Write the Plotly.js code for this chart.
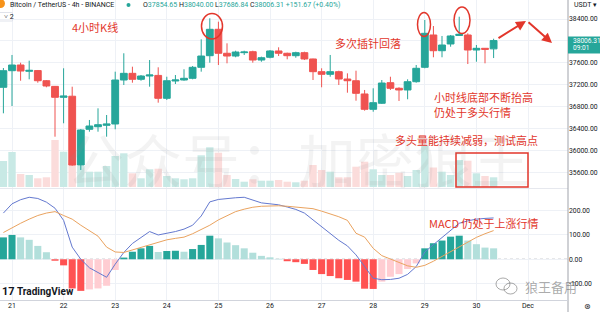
<!DOCTYPE html>
<html><head><meta charset="utf-8">
<script src="https://cdn.plot.ly/plotly-3.0.1.min.js"></script>
<style>html,body{margin:0;padding:0;background:#fff;}#chart{width:600px;height:312px;}</style>
</head><body><div id="chart"></div>
<script>
const times = [
"2023-11-20 20:00",
"2023-11-21 00:00","2023-11-21 04:00","2023-11-21 08:00","2023-11-21 12:00","2023-11-21 16:00","2023-11-21 20:00",
"2023-11-22 00:00","2023-11-22 04:00","2023-11-22 08:00","2023-11-22 12:00","2023-11-22 16:00","2023-11-22 20:00",
"2023-11-23 00:00","2023-11-23 04:00","2023-11-23 08:00","2023-11-23 12:00","2023-11-23 16:00","2023-11-23 20:00",
"2023-11-24 00:00","2023-11-24 04:00","2023-11-24 08:00","2023-11-24 12:00","2023-11-24 16:00","2023-11-24 20:00",
"2023-11-25 00:00","2023-11-25 04:00","2023-11-25 08:00","2023-11-25 12:00","2023-11-25 16:00","2023-11-25 20:00",
"2023-11-26 00:00","2023-11-26 04:00","2023-11-26 08:00","2023-11-26 12:00","2023-11-26 16:00","2023-11-26 20:00",
"2023-11-27 00:00","2023-11-27 04:00","2023-11-27 08:00","2023-11-27 12:00","2023-11-27 16:00","2023-11-27 20:00",
"2023-11-28 00:00","2023-11-28 04:00","2023-11-28 08:00","2023-11-28 12:00","2023-11-28 16:00","2023-11-28 20:00",
"2023-11-29 00:00","2023-11-29 04:00","2023-11-29 08:00","2023-11-29 12:00","2023-11-29 16:00","2023-11-29 20:00",
"2023-11-30 00:00","2023-11-30 04:00","2023-11-30 08:00"];
const open  = [37153,37456,37560,37445,37458,37273,37170,36970,36990,35734,36386,36433,36459,36483,37286,37408,37299,37359,37370,36952,37268,37286,37317,37518,37730,38212,37774,37724,37785,37803,37651,37701,37816,37774,37730,37785,37670,37438,37390,37438,37304,37273,37031,36751,36861,37237,37135,37104,37255,37518,38108,37821,37944,38099,38108,37834,37865,37854.65];
const high  = [37505,37743,37602,37639,37469,37286,37177,37500,37164,36390,36556,36769,36647,37438,37774,37529,37377,37651,37518,37346,37377,37482,37542,38029,38413,38351,37956,37821,37821,37821,37712,37834,37883,37785,37803,37803,37676,37500,37743,37456,37408,37456,37104,37135,37286,37346,37153,37299,37560,38382,38272,38090,38108,38442,38139,37925,37870,38040.00];
const low   = [36678,36811,37273,37299,37237,37153,36251,36496,35720,35643,36342,36342,36251,36386,37195,37237,37273,37164,36872,36921,37213,37273,37299,37438,37602,37560,37591,37701,37743,37602,37620,37682,37724,37664,37693,37651,37286,37153,37346,37195,37054,36908,36726,36707,36848,37104,36903,36934,37237,37500,37701,37701,37894,38090,37578,37620,37591,37686.84];
const close = [37456,37560,37450,37462,37273,37177,36970,36994,35734,36373,36446,36470,36483,37286,37408,37299,37359,37377,36952,37273,37286,37317,37518,37724,38212,37774,37724,37797,37797,37651,37693,37816,37774,37730,37785,37670,37438,37390,37438,37304,37273,37043,36751,36872,37231,37135,37104,37255,37500,38139,37821,37925,38090,38121,37834,37865,37847,38006.31];
const volume = [2600,3500,1300,1200,870,970,4700,3530,2700,2100,1530,1530,2100,3100,3370,1370,870,1770,1830,1100,870,770,870,3170,3970,3430,1200,800,530,770,630,630,700,530,470,630,2200,1700,1530,970,970,2030,2530,1770,1200,1200,1430,1100,1700,4100,1950,1530,1200,2700,2630,1370,1100,970];
const macdHist = [90,100,90,80,55,29,-6,-25,-120,-130,-124,-120,-109,-44,7,31,45,55,30,34,35,31,42,59,97,86,69,58,45,27,14,8,2,-8,-12,-19,-44,-61,-69,-78,-85,-92,-121,-122,-92,-72,-61,-40,-17,45,66,77,93,97,77,62,48,45];
const macdLine = [190,228,245,255,250,235,210,160,50,0,-35,-55,-74,-20,28,65,90,114,100,106,114,124,140,178,236,246,251,253,255,245,232,228,224,215,205,190,162,133,105,78,55,18,-30,-78,-84,-83,-78,-62,-30,30,60,90,118,148,158,165,168,170];
const signalLine = [110,130,148,165,180,190,196,180,165,140,118,95,50,30,28,38,48,59,68,80,86,91,105,121,140,162,180,196,206,214,218,220,220,218,215,213,208,198,188,175,160,107,91,45,15,0,-14,-27,-33,-25,-8,12,32,52,70,90,105,118];
const dayTickVals = ["2023-11-21","2023-11-22","2023-11-23","2023-11-24","2023-11-25","2023-11-26","2023-11-27","2023-11-28","2023-11-29","2023-11-30","2023-12-01"];
const dayTickText = ["21","22","23","24","25","26","27","28","29","30","Dec"];
const priceTicks = [35600,36000,36400,36800,37200,37600,38000,38400];
const priceTickText = ["35600.00","36000.00","36400.00","36800.00","37200.00","37600.00","","38400.00"];
const macdTicks = [-100,0,100,200];
const macdTickText = ["-100.00","0.00","100.00","200.00"];

const G='#26a69a', R='#ef5350', RED='#e2362b', TXT='#131722';
const volColors = close.map((c,i)=> c>=open[i] ? '#c8e9e5' : '#fbdcdb');
const histColors = macdHist.map((h,i)=>{
  const p = i>0 ? macdHist[i-1] : h-1;
  if (h>=0) return h>=p ? G : '#b2dfdb';
  return h<=p ? '#ff5252' : '#ffcdd2';
});
const W4 = 4*3600*1000;

const traces = [
  {type:'bar', x:times, y:volume, xaxis:'x', yaxis:'y', marker:{color:volColors, line:{width:0}}, width:W4*0.86, hoverinfo:'skip'},
  {type:'candlestick', x:times, open:open, high:high, low:low, close:close, xaxis:'x', yaxis:'y3',
   increasing:{line:{color:G,width:1}, fillcolor:G}, decreasing:{line:{color:R,width:1}, fillcolor:R},
   whiskerwidth:0, hoverinfo:'skip'},
  {type:'bar', x:times, y:macdHist, xaxis:'x', yaxis:'y2', marker:{color:histColors, line:{width:0}}, width:W4*0.82, hoverinfo:'skip'},
  {type:'scatter', mode:'lines', x:times, y:macdLine, xaxis:'x', yaxis:'y2', line:{color:'#6479cf', width:1}, hoverinfo:'skip'},
  {type:'scatter', mode:'lines', x:times, y:signalLine, xaxis:'x', yaxis:'y2', line:{color:'#eaa35f', width:1}, hoverinfo:'skip'}
];

const PW=568, PH=300;
const px = x => x/PW, py = y => (PH-y)/PH;
const topDom = [py(188), 1], botDom = [0, py(189)];
const ann = [];
function txt(x,y,text,o){ ann.push(Object.assign({xref:'paper',yref:'paper',x:px(x),y:py(y),text:text,showarrow:false,xanchor:'left',yanchor:'middle',
  font:{family:'Noto Sans CJK SC',size:11,color:RED}},o||{})); }

txt(298,158,'公众号：加密狼王',{xanchor:'center',font:{family:'Noto Sans CJK SC',size:58,color:'rgba(150,150,150,0.11)'}});
txt(7.5,5,'Bitcoin / TetherUS - 4h - BINANCE',{font:{family:'Roboto',size:7,color:TXT}});
txt(141,5,'<span style="color:#131722">O</span>37854.65 <span style="color:#131722">H</span>38040.00 <span style="color:#131722">L</span>37686.84 <span style="color:#131722">C</span>38006.31 +151.67 (+0.40%)',{font:{family:'Roboto',size:7,color:G}});
txt(1.5,16.8,'˅ 2',{font:{family:'Roboto',size:7,color:TXT}});
txt(572,5,'USDT ▾',{font:{family:'Roboto',size:7,color:TXT}});
txt(570.5,41,'38006.31',{font:{family:'Roboto',size:6.6,color:'#ffffff'}});
txt(570.5,48.5,'09:01',{font:{family:'Roboto',size:6.6,color:'#ffffff'}});
txt(70,26.5,'4小时K线');
txt(333,43,'多次插针回落');
txt(432,97,'小时线底部不断抬高');
txt(432,111.5,'仍处于多头行情');
txt(393,140,'多头量能持续减弱，测试高点');
txt(427,223,'MACD 仍处于上涨行情');
txt(0,291.5,'<b>17</b>',{font:{family:'Roboto',size:11,color:TXT}});
txt(15,291.5,'<b>TradingView</b>',{font:{family:'Roboto',size:10,color:TXT}});
txt(523,286,'狼王备用',{font:{family:'Noto Sans CJK SC',size:13,color:'rgba(100,100,100,0.55)'}});
txt(582,306,'⊛',{font:{family:'DejaVu Sans',size:8,color:TXT}});
ann.push({xref:'paper',yref:'paper',x:px(526),y:py(21),ax:-29,ay:18,showarrow:true,arrowhead:2,arrowsize:1,arrowwidth:2,arrowcolor:RED,text:''});
ann.push({xref:'paper',yref:'paper',x:px(552),y:py(43),ax:-25,ay:-22,showarrow:true,arrowhead:2,arrowsize:1,arrowwidth:2,arrowcolor:RED,text:''});

const P = (x0,y0,x1,y1)=>({xref:'paper',yref:'paper',x0:px(x0),x1:px(x1),y0:py(y0),y1:py(y1)});
const shapes = [
  Object.assign({type:'line',layer:'below',line:{color:'#e6e8ee',width:1}},P(0,188.5,568,188.5)),
  Object.assign({type:'line',layer:'above',line:{color:'#a0a3ab',width:1}},P(568,0,568,312)),
  Object.assign({type:'line',layer:'above',line:{color:'#d1d4dc',width:1}},P(0,300.5,568,300.5)),
  {type:'line',layer:'below',xref:'paper',x0:0,x1:1,yref:'y2',y0:0,y1:0,line:{color:'#9598a1',width:1,dash:'dot'}},
  Object.assign({type:'circle',line:{color:'#f7931a',width:0},fillcolor:'#f7931a'},P(-4,-1,5,8)),
  Object.assign({type:'circle',line:{color:G,width:0},fillcolor:G},P(126.5,3,130.5,7)),
  Object.assign({type:'rect',line:{color:'#e0e3eb',width:1},fillcolor:'rgba(255,255,255,0)'},P(-1,12.5,12.5,21)),
  Object.assign({type:'rect',line:{width:0},fillcolor:G},P(568,36.5,600,53.5)),
  Object.assign({type:'circle',line:{color:RED,width:1.5}},P(201.5,13.5,222.5,39)),
  Object.assign({type:'circle',line:{color:RED,width:1.5}},P(417.5,12.5,430.5,36.5)),
  Object.assign({type:'circle',line:{color:RED,width:1.5}},P(454,7,470,33.5)),
  Object.assign({type:'rect',line:{color:RED,width:1.5}},P(456,153,528,187)),
  Object.assign({type:'circle',line:{color:'rgba(100,100,100,0.55)',width:1}},P(496,278,510,290)),
  Object.assign({type:'circle',line:{color:'rgba(100,100,100,0.55)',width:1}},P(504,283,517,294))
];

const layout = {
  width:600, height:312, margin:{l:0,r:32,t:0,b:12},
  paper_bgcolor:'#ffffff', plot_bgcolor:'#ffffff', showlegend:false,
  boxgap:0.12, boxgroupgap:0.1,
  xaxis:{type:'date', anchor:'y2', range:['2023-11-20 18:25','2023-12-01 18:36'],
    tickvals:dayTickVals, ticktext:dayTickText, ticks:'', showgrid:true, gridcolor:'#eef1f6',
    zeroline:false, showline:false, tickfont:{family:'Roboto',size:7,color:TXT},
    rangeslider:{visible:false}, fixedrange:true},
  yaxis:{domain:topDom, range:[-100,18700], visible:false, showgrid:false, fixedrange:true},
  yaxis3:{overlaying:'y', side:'right', range:[35314,38747], tickvals:priceTicks, ticktext:priceTickText,
    showgrid:true, gridcolor:'#eef1f6', zeroline:false, ticks:'', tickfont:{family:'Roboto',size:6.8,color:TXT}, fixedrange:true},
  yaxis2:{domain:botDom, side:'right', range:[-167.5,289], tickvals:macdTicks, ticktext:macdTickText,
    showgrid:true, gridcolor:'#eef1f6', zeroline:false, ticks:'', tickfont:{family:'Roboto',size:6.8,color:TXT}, fixedrange:true},
  annotations:ann, shapes:shapes
};
Plotly.newPlot('chart', traces, layout, {displayModeBar:false, staticPlot:true});
</script></body></html>
